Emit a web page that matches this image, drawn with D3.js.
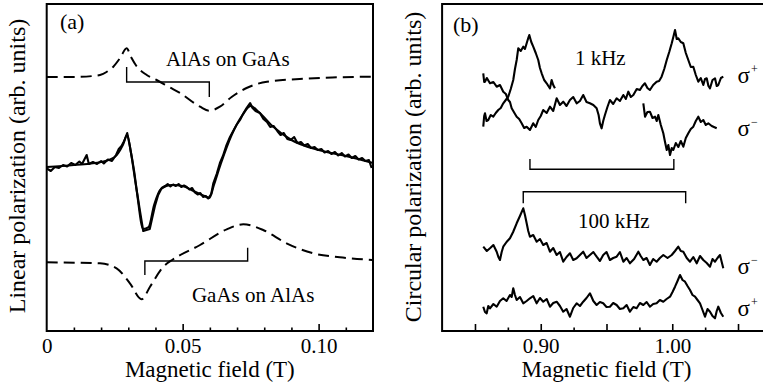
<!DOCTYPE html>
<html lang="en">
<head>
<meta charset="utf-8">
<title>polarization vs magnetic field</title>
<script src="https://d3js.org/d3.v7.min.js"></script>
<style>
  body { margin: 0; background-color: #fff; }
  svg { display: block; background-color: #fff; }
  svg text { font-family: "Liberation Serif", "DejaVu Serif", "Times New Roman", Times, serif; fill: #000; }
  .curve { fill: none; stroke: #000; stroke-width: 2.1; stroke-linejoin: round; }
  .dashed { fill: none; stroke: #000; stroke-width: 2; stroke-dasharray: 11,6; }
  .bracket { fill: none; stroke: #000; stroke-width: 1.4; }
  .frame { fill: none; stroke: #000; stroke-width: 2; }
</style>
</head>
<body>
<script>

// ---- panel (a): linear polarization, field in T, y in arb. units ----
var aTickLabels = [0, 0.05, 0.10];
var aMajorTicks = [0.05, 0.10];
var aMinorTicks = [0.01, 0.02, 0.03, 0.04, 0.06, 0.07, 0.08, 0.09, 0.11];

// AlAs on GaAs (dashed, upper)
var alasOnGaas = [[0,25.4],[0.01,25.4],[0.017,25.5],[0.0196,25.6],[0.022,25.9],[0.0245,26.43],[0.027,27.3],
  [0.0294,28.27],[0.031,27.4],[0.033,26.5],[0.0368,25.6],[0.0404,25.1],[0.045,24.4],[0.049,23.8],
  [0.0564,22.43],[0.0598,22.03],[0.0637,22.43],[0.068,23.4],[0.0735,24.3],[0.081,24.93],[0.093,25.2],
  [0.105,25.35],[0.12,25.43]];

// GaAs on AlAs (dashed, lower)
var gaasOnAlas = [[0,6.87],[0.0196,6.77],[0.0257,6.27],[0.0306,4.77],[0.0349,3.17],[0.038,4.43],
  [0.0429,6.43],[0.0465,7.17],[0.0564,8.6],[0.0662,10.17],[0.0723,10.67],[0.0796,10.1],[0.0882,8.77],
  [0.098,7.77],[0.1078,7.37],[0.12,7.1]];

// measured signal (middle)
var linMeasured = [[0,16.27],[0.0015,16.0],[0.003,16.4],[0.0045,16.3],[0.006,16.6],[0.0075,16.45],
  [0.009,16.8],[0.0105,16.6],[0.012,16.95],[0.013,16.7],[0.0147,17.6],[0.0155,16.7],[0.017,16.9],
  [0.0185,16.7],[0.02,17.0],[0.021,16.75],[0.0225,17.15],[0.024,17.0],[0.0255,17.6],[0.0265,18.2],
  [0.0275,18.5],[0.0285,19.0],[0.0296,19.8],[0.0305,18.6],[0.0313,17.4],[0.0322,15.9],[0.0331,14.1],
  [0.0343,12.0],[0.0355,10.0],[0.0367,10.1],[0.0379,10.2],[0.0388,11.3],[0.0398,12.5],[0.041,13.6],
  [0.0423,14.3],[0.0435,14.5],[0.0445,14.7],[0.0455,14.45],[0.0465,14.65],[0.0475,14.5],[0.0485,14.7],
  [0.0495,14.4],[0.0505,14.55],[0.0515,14.4],[0.0525,14.15],[0.0535,14.3],[0.0545,13.85],[0.0555,13.65],
  [0.0565,13.8],[0.0575,13.4],[0.0585,13.5],[0.0594,13.25],[0.0605,13.7],[0.0613,14.8],[0.0625,15.7],
  [0.0637,16.8],[0.0648,17.5],[0.066,18.5],[0.0674,19.4],[0.0686,20.0],[0.0698,20.6],[0.0711,21.1],
  [0.0722,21.7],[0.0735,22.3],[0.0748,22.8],[0.0757,22.3],[0.0768,22.0],[0.0784,21.8],[0.0797,21.2],
  [0.081,20.9],[0.0822,20.4],[0.0835,20.5],[0.0848,20.0],[0.086,19.6],[0.0872,19.8],[0.0885,19.2],
  [0.0897,19.1],[0.091,19.4],[0.0922,18.8],[0.0935,18.9],[0.0947,18.55],[0.096,18.7],[0.0972,18.3],
  [0.0985,18.4],[0.0997,18.1],[0.101,18.2],[0.1022,17.85],[0.1035,18.0],[0.1047,17.7],[0.106,17.9],
  [0.1072,17.55],[0.1085,17.8],[0.1097,17.45],[0.111,17.65],[0.1122,17.3],[0.1135,17.5],[0.1147,17.15],
  [0.116,17.3],[0.1172,17.0],[0.1185,17.1],[0.1195,16.3]];

// fitted sum (middle, smooth)
var linFit = [[0,16.4],[0.01,16.6],[0.02,16.9],[0.025,17.4],[0.028,18.6],[0.0296,19.6],[0.031,17.8],
  [0.033,14.2],[0.0355,10.2],[0.0375,10.4],[0.0395,12.6],[0.042,14.2],[0.046,14.6],[0.05,14.5],
  [0.054,14.0],[0.058,13.5],[0.0598,13.3],[0.0615,14.6],[0.064,16.7],[0.068,19.6],[0.072,21.6],
  [0.075,22.5],[0.078,21.9],[0.083,20.5],[0.09,19.1],[0.1,18.1],[0.11,17.5],[0.12,16.8]];

// brackets: [x1, x2, y line, y tip left, y tip right]
var aBrackets = [[0.0294, 0.0598, 24.9, 26.4, 23.4], [0.0361, 0.0739, 7.0, 5.6, 8.33]];

// ---- panel (b): circular polarization ----
var bTickLabels = [0.90, 1.00];
var bMajorTicks = [0.85, 0.90, 0.95, 1.00, 1.05];
var bMinorTicks = [0.875, 0.925, 0.975, 1.025];

var plus1k = [[0.8563,25.77],[0.857,24.9],[0.8576,24.93],[0.859,25.3],[0.8614,24.77],[0.864,24.9],[0.8665,24.43],
  [0.869,24.6],[0.8715,23.93],[0.8735,23.7],[0.8753,23.1],[0.8766,22.9],[0.8779,22.27],[0.88,21.8],[0.8817,21.43],
  [0.8836,21.2],[0.8855,20.77],[0.8874,20.3],[0.8893,20.43],[0.8918,20.1],[0.8943,20.77],[0.8962,20.4],[0.8981,21.1],
  [0.9,21.5],[0.9019,22.1],[0.9045,21.8],[0.907,22.43],[0.9095,22.0],[0.9121,23.27],[0.9146,22.6],[0.9171,22.93],
  [0.9196,22.5],[0.9222,23.1],[0.9247,23.4],[0.9273,22.77],[0.9298,23.0],[0.9323,23.6],[0.9348,22.9],[0.9374,22.77],
  [0.94,22.6],[0.9425,22.27],[0.944,21.6],[0.945,20.77],[0.9463,20.27],[0.9475,21.0],[0.9488,21.6],[0.9507,22.4],
  [0.9526,23.1],[0.9551,22.7],[0.9577,23.27],[0.9602,23.0],[0.9628,23.6],[0.9647,23.2],[0.9666,23.93],[0.9685,23.4],
  [0.9704,23.6],[0.973,24.2],[0.9754,24.1],[0.9773,24.5],[0.9792,24.77],[0.9811,24.3],[0.983,24.1],[0.9855,24.6],
  [0.9881,24.93],[0.99,25.0],[0.9919,25.43],[0.9939,26.2],[0.9958,27.1],[0.9977,27.9],[0.9996,28.77],[1.001,29.5],
  [1.0021,30.1],[1.0034,29.2],[1.0046,29.27],[1.0065,28.9],[1.0084,28.77],[1.0103,27.8],[1.0122,27.1],[1.0141,26.4],
  [1.016,26.43],[1.0179,25.6],[1.0198,24.93],[1.0217,25.3],[1.0236,24.6],[1.0249,25.2],[1.0262,25.27],[1.0275,24.5],
  [1.0287,24.27],[1.0306,25.1],[1.0325,25.27],[1.0338,24.5],[1.035,24.6],[1.037,25.3],[1.0388,25.43]];

// null = no data recorded there
var minus1k = [[0.8563,20.43],[0.857,21.5],[0.8576,21.77],[0.8588,21.0],[0.8601,21.1],[0.862,21.6],[0.8639,21.43],
  [0.8658,21.8],[0.8677,22.1],[0.8696,22.3],[0.8715,22.77],[0.8734,23.1],[0.8753,23.43],[0.8772,24.2],[0.8791,25.1],
  [0.8804,26.2],[0.8817,27.1],[0.8829,28.27],[0.8848,28.0],[0.8867,28.43],[0.888,28.2],[0.8893,28.77],[0.8905,29.3],
  [0.8913,29.6],[0.8928,28.9],[0.8943,28.43],[0.8962,27.8],[0.8981,27.1],[0.8994,26.3],[0.9007,25.77],[0.9026,25.1],
  [0.9045,24.77],[0.9058,24.5],[0.907,24.27],[0.9083,25.1],[0.9095,24.6],[0.9108,24.27],
  [0.95,null],
  [0.978,22.77],[0.9793,21.43],[0.9811,21.9],[0.983,21.93],[0.985,21.3],[0.9869,21.43],[0.9882,21.0],[0.9894,21.6],
  [0.9913,20.6],[0.9932,19.77],[0.9945,18.9],[0.9958,18.1],[0.997,18.6],[0.9983,17.6],[0.9996,18.3],[1.0008,18.1],
  [1.0027,18.8],[1.0046,18.4],[1.0065,19.0],[1.0084,18.43],[1.0103,19.3],[1.0122,19.77],[1.0141,20.2],[1.016,20.43],
  [1.0179,21.0],[1.0198,21.43],[1.0217,20.9],[1.0236,21.1],[1.0255,20.6],[1.0274,20.77],[1.03,20.5],[1.0338,20.27]];

var minus100k = [[0.8563,8.43],[0.859,8.0],[0.8614,8.27],[0.864,8.6],[0.8665,7.93],[0.8678,7.4],[0.869,7.1],
  [0.8703,7.9],[0.8715,8.43],[0.874,8.9],[0.8766,9.27],[0.879,9.9],[0.8817,10.77],[0.8842,11.5],[0.8867,12.27],
  [0.888,11.6],[0.8893,10.77],[0.8905,10.0],[0.8918,9.43],[0.8943,9.6],[0.8969,8.93],[0.8994,9.2],[0.9019,8.6],
  [0.9045,8.8],[0.907,7.93],[0.9095,8.3],[0.9121,7.6],[0.9146,7.9],[0.9171,6.93],[0.9196,7.4],[0.9222,7.77],
  [0.9247,7.1],[0.9273,7.27],[0.9298,7.6],[0.9323,7.93],[0.9348,7.3],[0.9374,7.6],[0.94,7.9],[0.9425,7.43],
  [0.945,7.0],[0.9475,7.6],[0.95,7.9],[0.9526,7.1],[0.9551,7.3],[0.9577,7.43],[0.9602,7.9],[0.9628,6.93],
  [0.9653,7.3],[0.9678,6.77],[0.971,7.2],[0.9742,7.93],[0.976,7.5],[0.978,7.1],[0.9805,7.3],[0.983,6.6],
  [0.9855,7.2],[0.9881,6.93],[0.9906,7.3],[0.9932,7.6],[0.9964,7.3],[0.9996,7.6],[1.0021,8.0],[1.0046,8.43],
  [1.0065,8.0],[1.0084,7.93],[1.011,7.3],[1.0135,6.93],[1.016,7.4],[1.0186,6.77],[1.0211,7.5],[1.0236,7.1],
  [1.0262,6.8],[1.0287,6.43],[1.0306,7.2],[1.0325,6.93],[1.0344,7.3],[1.0363,7.6],[1.0376,6.9],[1.0388,6.27]];

var plus100k = [[0.8563,2.43],[0.8576,1.9],[0.8589,1.77],[0.8601,2.5],[0.8614,2.27],[0.864,2.7],[0.8665,2.43],
  [0.869,3.0],[0.8715,3.27],[0.874,3.0],[0.8766,3.6],[0.8779,3.4],[0.8791,4.27],[0.8804,3.6],[0.8817,3.1],
  [0.8842,3.4],[0.8867,2.77],[0.8893,3.0],[0.8918,3.27],[0.8943,3.5],[0.8969,2.77],[0.8994,3.3],[0.9019,2.93],
  [0.9045,3.2],[0.907,2.43],[0.9095,2.8],[0.9121,2.93],[0.9146,2.5],[0.9171,1.93],[0.9196,2.2],[0.9222,1.43],
  [0.9247,2.3],[0.9273,2.77],[0.9298,2.5],[0.9323,2.93],[0.9348,3.3],[0.9374,3.77],[0.94,3.0],[0.9425,2.6],
  [0.945,2.9],[0.9475,2.77],[0.95,2.4],[0.9526,2.43],[0.9551,2.8],[0.9577,2.6],[0.9602,2.2],[0.9628,2.27],
  [0.9653,2.6],[0.9678,1.93],[0.9704,2.4],[0.9729,2.27],[0.9754,2.8],[0.978,2.6],[0.9805,2.9],[0.983,2.43],
  [0.9855,2.7],[0.9881,2.77],[0.9906,3.1],[0.9932,2.93],[0.9957,3.2],[0.9983,3.43],[1.0002,3.9],[1.0021,4.43],
  [1.004,5.0],[1.0059,5.6],[1.0078,5.1],[1.0097,4.93],[1.0116,4.5],[1.0135,4.1],[1.0154,3.6],[1.0173,3.43],
  [1.0192,3.1],[1.0211,2.77],[1.023,2.1],[1.0249,1.43],[1.0268,2.2],[1.0287,1.93],[1.0306,1.5],[1.0325,1.27],
  [1.0338,2.0],[1.035,2.43],[1.037,1.8],[1.0388,1.43]];

var bBrackets = [[0.8918, 1.0012, 16.17, 17.2, 17.2], [0.8867, 1.0102, 13.93, 12.77, 12.77]];

// sigma labels: [sign, y]
var sigmaLabels = [["+", 24.8], ["\u2212", 19.5], ["\u2212", 5.7], ["+", 1.5]];

var W = 763, H = 387;
var serif = "'Liberation Serif', 'DejaVu Serif', 'Times New Roman', serif";

var svg = d3.select("body").append("svg")
  .attr("width", W)
  .attr("height", H)
  .attr("font-family", serif);

var y = d3.scaleLinear().domain([0, 32.7]).range([331, 4]);
var xA = d3.scaleLinear().domain([0, 0.12]).range([46.7, 373]);
var xB = d3.scaleLinear().domain([0.825, 1.075]).range([442.1, 770.9]);

function drawPanel(x, minor, major, labels, fmt) {
  var g = svg.append("g").attr("transform", "translate(0," + y(0) + ")");
  g.append("g").call(d3.axisBottom(x).tickValues(minor).tickSize(-3.5).tickFormat(""));
  g.append("g").call(d3.axisBottom(x).tickValues(major).tickSize(-7).tickFormat(""));
  g.append("g").call(d3.axisBottom(x).tickValues(labels).tickSize(0).tickPadding(7).tickFormat(fmt))
    .attr("font-size", 21).attr("font-family", serif);
  g.selectAll(".domain").remove();
  g.selectAll(".tick line").attr("stroke", "#000").attr("stroke-width", 1.6);

  var r = x.range();
  svg.append("rect").attr("class", "frame")
    .attr("x", r[0]).attr("y", y(32.7))
    .attr("width", r[1] - r[0]).attr("height", y(0) - y(32.7));

  svg.append("text")
    .attr("x", (r[0] + r[1]) / 2).attr("y", 377)
    .attr("text-anchor", "middle").attr("font-size", 23)
    .text("Magnetic field (T)");
}

drawPanel(xA, aMinorTicks, aMajorTicks, aTickLabels, function(d) { return d === 0 ? "0" : d3.format(".2f")(d); });
drawPanel(xB, bMinorTicks, bMajorTicks, bTickLabels, d3.format(".2f"));

svg.append("text")
  .attr("transform", "translate(25,166) rotate(-90)")
  .attr("text-anchor", "middle").attr("font-size", 24)
  .text("Linear polarization (arb. units)");

svg.append("text")
  .attr("transform", "translate(421,167) rotate(-90)")
  .attr("text-anchor", "middle").attr("font-size", 24)
  .text("Circular polarization (arb. units)");

var lineA = d3.line().x(function(d) { return xA(d[0]); }).y(function(d) { return y(d[1]); });
var smoothA = d3.line().curve(d3.curveMonotoneX)
  .x(function(d) { return xA(d[0]); }).y(function(d) { return y(d[1]); });
var lineB = d3.line()
  .defined(function(d) { return d[1] != null; })
  .x(function(d) { return xB(d[0]); }).y(function(d) { return y(d[1]); });

svg.append("path").attr("class", "dashed").attr("d", smoothA(alasOnGaas));
svg.append("path").attr("class", "dashed").attr("d", smoothA(gaasOnAlas));
svg.append("path").attr("class", "curve").attr("d", lineA(linMeasured));
svg.append("path").attr("class", "curve").attr("stroke-width", 2.4).attr("d", smoothA(linFit));

[plus1k, minus1k, minus100k, plus100k].forEach(function(s) {
  svg.append("path").attr("class", "curve").attr("stroke-width", 2.2).attr("d", lineB(s));
});

function bracket(x, b) {
  return "M" + x(b[0]) + "," + y(b[3]) + "V" + y(b[2]) + "H" + x(b[1]) + "V" + y(b[4]);
}
aBrackets.forEach(function(b) { svg.append("path").attr("class", "bracket").attr("d", bracket(xA, b)); });
bBrackets.forEach(function(b) { svg.append("path").attr("class", "bracket").attr("d", bracket(xB, b)); });

// labels
function label(x, px, py, txt, size) {
  svg.append("text").attr("x", x(px)).attr("y", y(py)).attr("font-size", size).text(txt);
}
label(xA, 0.0049, 30.2, "(a)", 22);
label(xA, 0.0439, 26.5, "AlAs on GaAs", 21);
label(xA, 0.0534, 2.9, "GaAs on AlAs", 21);
label(xB, 0.8333, 29.9, "(b)", 22);
label(xB, 0.926, 26.6, "1 kHz", 21);
label(xB, 0.9283, 10.3, "100 kHz", 21);

sigmaLabels.forEach(function(s) {
  var t = svg.append("text").attr("x", xB(1.0496)).attr("y", y(s[1])).attr("font-size", 23);
  t.append("tspan").text("\u03c3");
  t.append("tspan").attr("font-size", 12).attr("dy", -10).attr("dx", 1).text(s[0]);
});

</script>
</body>
</html>
